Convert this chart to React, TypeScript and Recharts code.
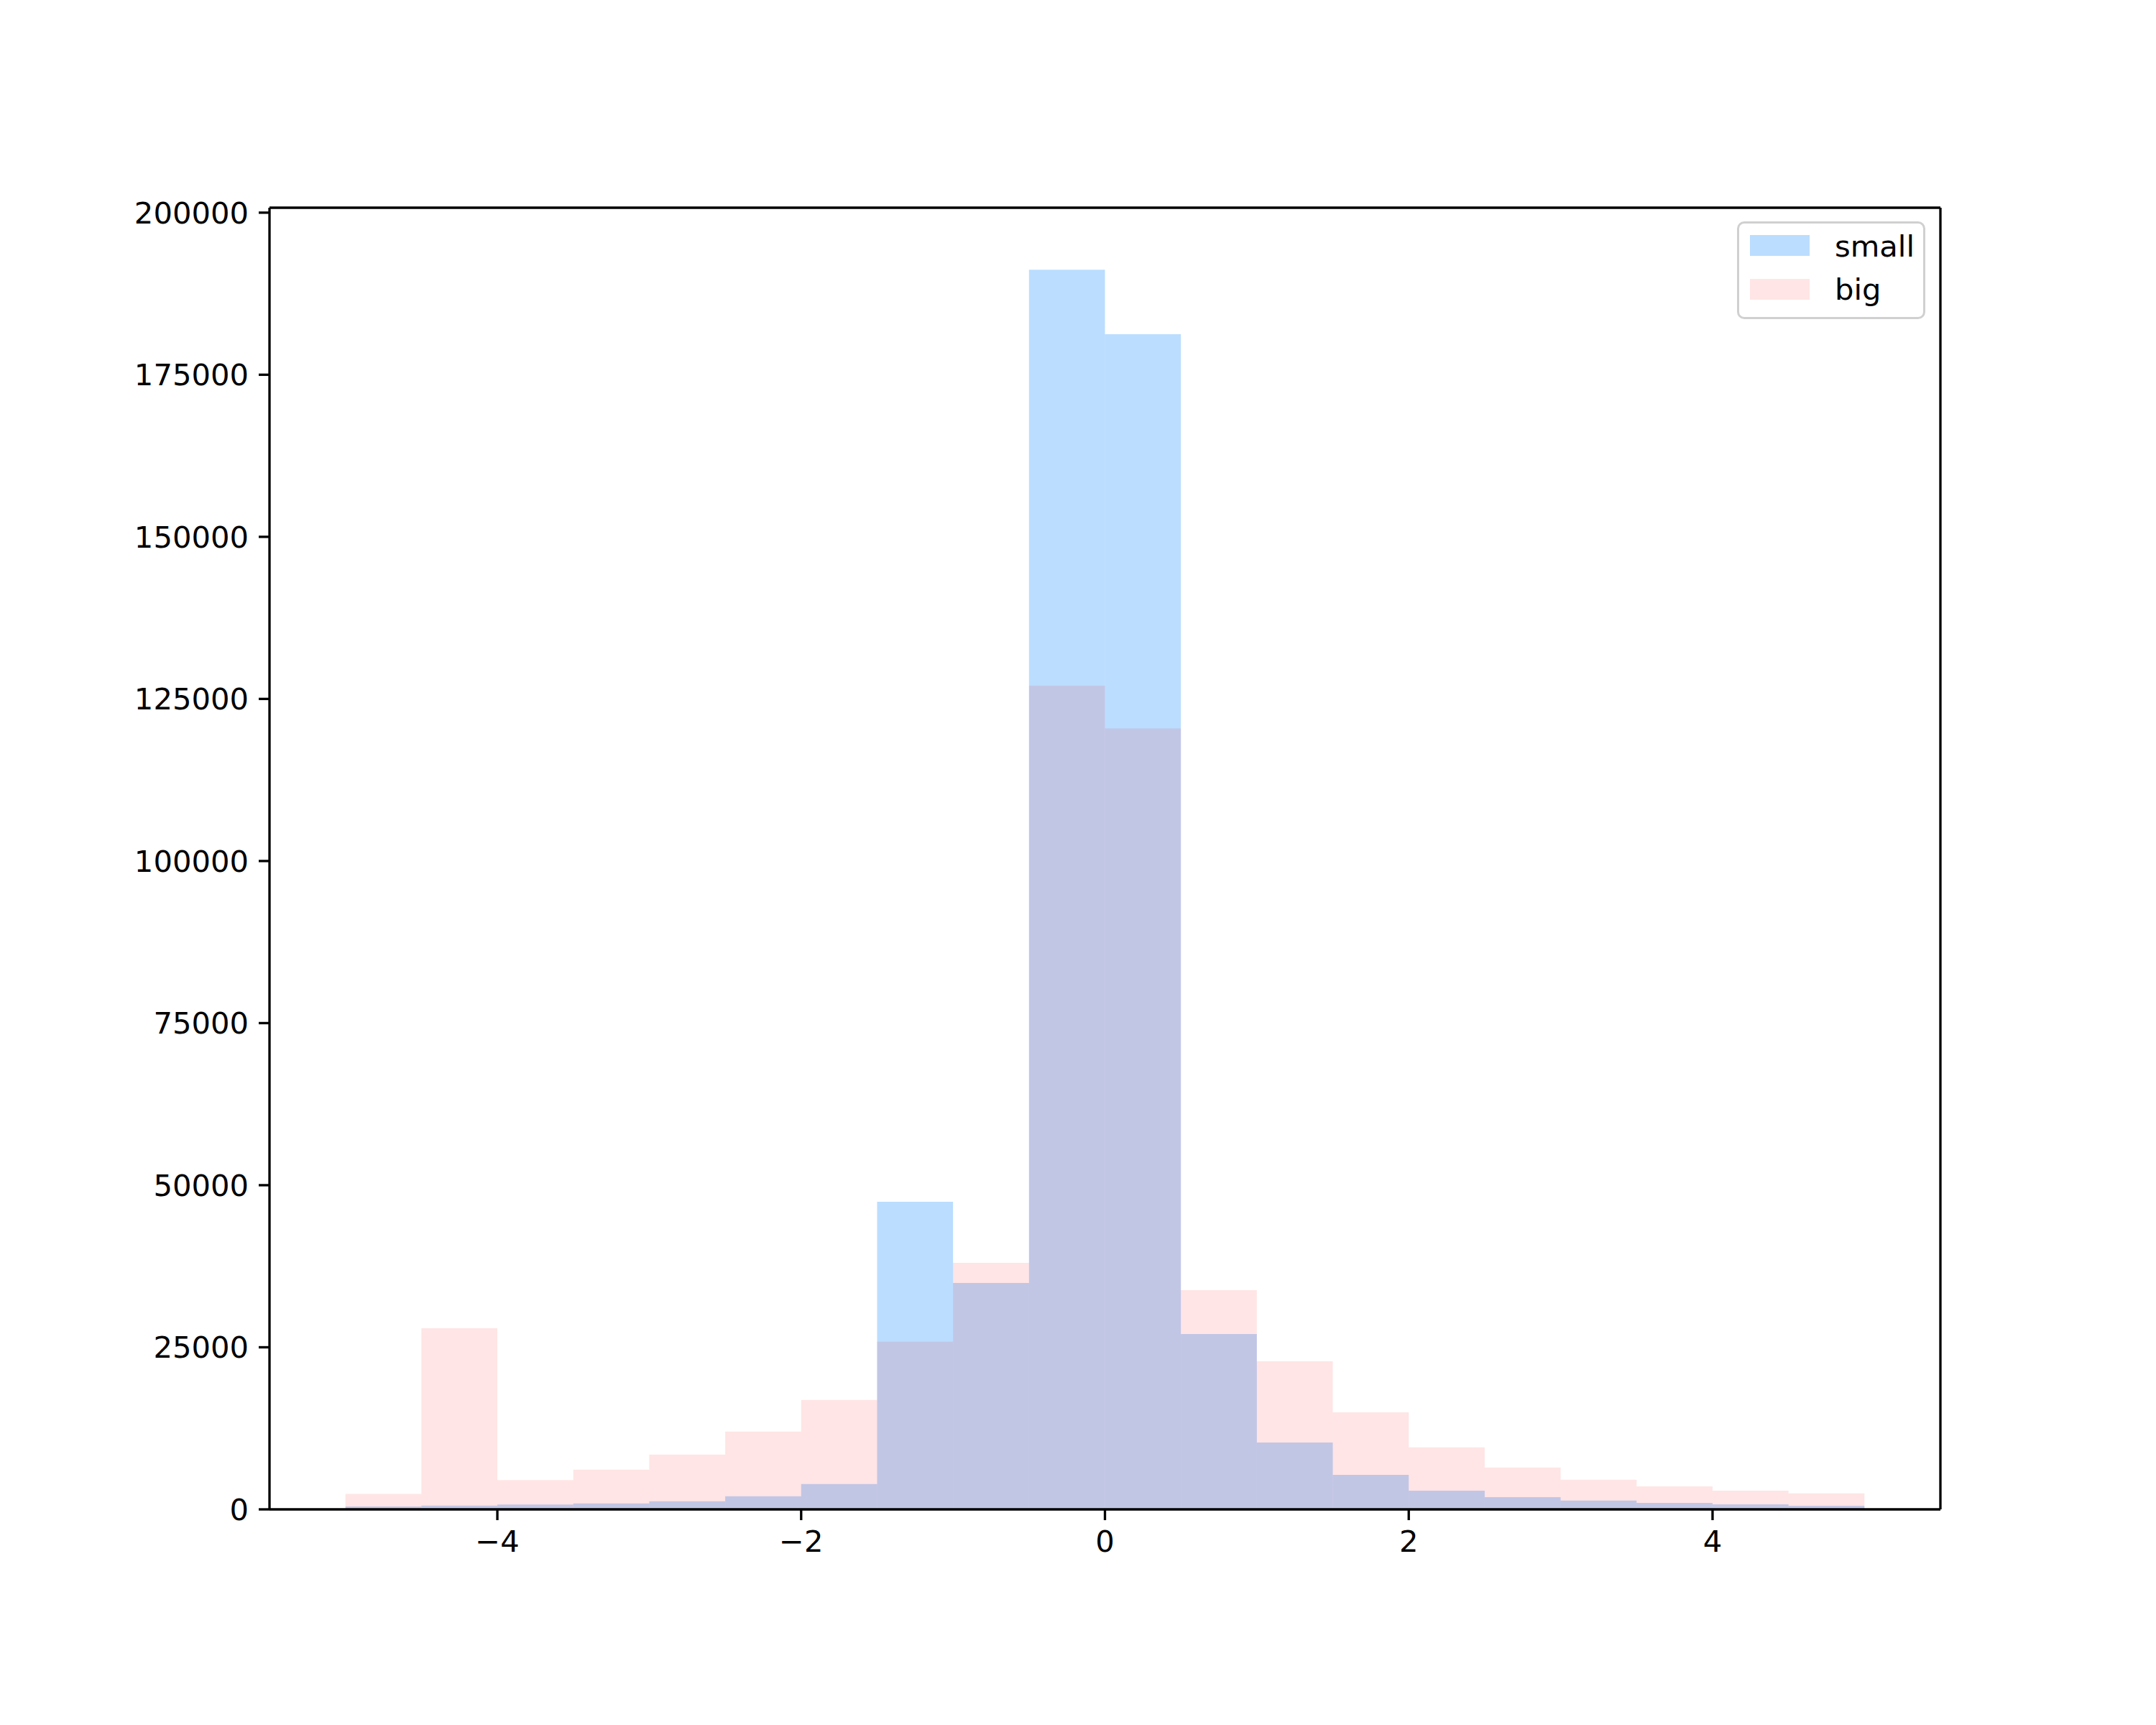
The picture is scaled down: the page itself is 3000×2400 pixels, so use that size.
import { BarChart, Bar, XAxis, YAxis } from "recharts";

// histogram bins: 20 bins of width 0.5 from -5 to 5 (centres)
const binCenters = [
  -4.75, -4.25, -3.75, -3.25, -2.75, -2.25, -1.75, -1.25, -0.75, -0.25,
  0.25, 0.75, 1.25, 1.75, 2.25, 2.75, 3.25, 3.75, 4.25, 4.75,
];

const smallCounts = [
  440, 590, 750, 920, 1260, 2030, 3920, 47450, 34920, 191200,
  181260, 27050, 10310, 5320, 2880, 1880, 1360, 1000, 770, 550,
];

const bigCounts = [
  2370, 27940, 4520, 6130, 8460, 12010, 16890, 25870, 38030, 127050,
  120450, 33810, 22840, 14970, 9550, 6450, 4570, 3540, 2880, 2470,
];

const xTicks = [-4, -2, 0, 2, 4];
const yTicks = [0, 25000, 50000, 75000, 100000, 125000, 150000, 175000, 200000];

const W = 3000;
const H = 2400;
const FONT = "'DejaVu Sans', sans-serif";
const FS = 41.7;
const LW = 3.33;

const xDomain: [number, number] = [-5.5, 5.5];
const plotLeft = 375;
const plotRight = 2700;
const plotWidth = plotRight - plotLeft;
// a hair under the band size, otherwise recharts falls back to 90% bars
const binWidthPx = (0.5 * plotWidth) / (xDomain[1] - xDomain[0]) - 0.001;

export default function App() {
  const data = binCenters.map((x, i) => ({
    x,
    small: smallCounts[i],
    big: bigCounts[i],
  }));
  const yMax = Math.max(...smallCounts, ...bigCounts) * 1.05;

  const tickStyle = { fontSize: FS, fill: "#000", fontFamily: FONT };
  const fmtX = (v: number) => (v < 0 ? `\u2212${-v}` : `${v}`);
  const spine = { stroke: "#000", strokeWidth: LW };

  return (
    <div
      style={{
        position: "absolute",
        left: 0,
        top: 0,
        width: W,
        height: H,
        background: "#fff",
        fontFamily: FONT,
      }}
    >
      <BarChart
        width={W}
        height={H}
        data={data}
        margin={{ top: 288, right: 299, bottom: 200, left: 75 }}
        barCategoryGap={0}
        barGap={0}
      >
        <XAxis
          xAxisId="main"
          dataKey="x"
          type="number"
          domain={xDomain}
          ticks={xTicks}
          tickFormatter={fmtX}
          height={100}
          tick={tickStyle}
          tickSize={15}
          tickMargin={14}
          axisLine={spine}
          tickLine={spine}
        />
        <XAxis
          xAxisId="top"
          dataKey="x"
          orientation="top"
          type="number"
          domain={xDomain}
          height={1}
          tick={false}
          tickLine={false}
          axisLine={spine}
        />
        <YAxis
          yAxisId="left"
          type="number"
          domain={[0, yMax]}
          ticks={yTicks}
          width={300}
          tick={tickStyle}
          tickSize={15}
          tickMargin={14}
          axisLine={spine}
          tickLine={spine}
        />
        <YAxis
          yAxisId="right"
          orientation="right"
          type="number"
          domain={[0, yMax]}
          width={1}
          tick={false}
          tickLine={false}
          axisLine={spine}
        />
        <Bar
          dataKey="small"
          xAxisId="main"
          yAxisId="left"
          barSize={binWidthPx}
          fill="#1e90ff"
          fillOpacity={0.3}
          isAnimationActive={false}
        />
        <Bar
          dataKey="big"
          xAxisId="top"
          yAxisId="right"
          barSize={binWidthPx}
          fill="#ff0000"
          fillOpacity={0.1}
          isAnimationActive={false}
        />
      </BarChart>

      {/* legend, upper right */}
      <div
        style={{
          position: "absolute",
          left: 2417,
          top: 308,
          width: 262,
          height: 136,
          boxSizing: "border-box",
          border: "3px solid #d0d0d0",
          borderRadius: 10,
          background: "rgba(255,255,255,0.8)",
        }}
      />
      <div
        style={{
          position: "absolute",
          left: 2435,
          top: 327,
          width: 83,
          height: 29,
          background: "rgba(30,144,255,0.3)",
        }}
      />
      <div
        style={{
          position: "absolute",
          left: 2435,
          top: 388,
          width: 83,
          height: 29,
          background: "rgba(255,0,0,0.1)",
        }}
      />
      <span
        style={{
          position: "absolute",
          left: 2553,
          top: 322,
          fontSize: FS,
          lineHeight: 1,
          color: "#000",
        }}
      >
        small
      </span>
      <span
        style={{
          position: "absolute",
          left: 2553,
          top: 382,
          fontSize: FS,
          lineHeight: 1,
          color: "#000",
        }}
      >
        big
      </span>
    </div>
  );
}
